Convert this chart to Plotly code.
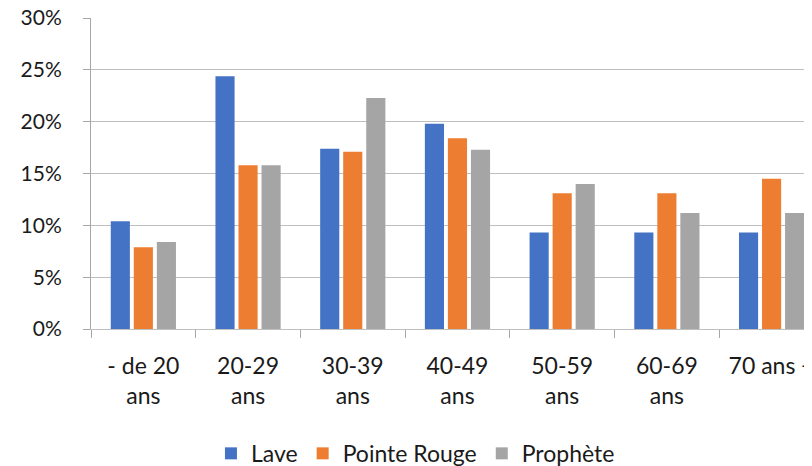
import plotly.graph_objects as go

categories = ["- de 20<br>ans", "20-29<br>ans", "30-39<br>ans", "40-49<br>ans",
              "50-59<br>ans", "60-69<br>ans", "70 ans +"]
lave = [0.104, 0.244, 0.174, 0.198, 0.093, 0.093, 0.093]
pointe_rouge = [0.079, 0.158, 0.171, 0.184, 0.131, 0.131, 0.145]
prophete = [0.084, 0.158, 0.223, 0.173, 0.140, 0.112, 0.112]
y_ticks = [0, 0.05, 0.10, 0.15, 0.20, 0.25, 0.30]
y_tick_labels = ["0%", "5%", "10%", "15%", "20%", "25%", "30%"]

FONT = "Lato"
fig = go.Figure()
for name, vals, col in [("Lave", lave, "#4472C4"),
                        ("Pointe Rouge", pointe_rouge, "#ED7D31"),
                        ("Prophète", prophete, "#A5A5A5")]:
    fig.add_trace(go.Bar(x=categories, y=vals, name=name,
                         marker=dict(color=col, line=dict(width=0))))

# page body has an 8px margin, so the figure is sized/offset accordingly
fig.update_layout(
    width=804, height=458,
    margin=dict(l=83, r=0, t=10, b=137, autoexpand=False),
    paper_bgcolor="white", plot_bgcolor="white",
    barmode="group", bargap=0.34, bargroupgap=0.17,
    font=dict(family=FONT, color="#1a1a1a"),
    legend=dict(orientation="h", x=0.45, xanchor="center", y=-0.40, yanchor="middle",
                font=dict(size=23, family=FONT, color="#1a1a1a"),
                itemwidth=30, tracegroupgap=0),
    xaxis=dict(range=[-0.5, 6.386], tickson="boundaries", ticks="outside", ticklen=8,
               tickcolor="#A6A6A6", showline=True, linecolor="#BFBFBF", linewidth=1,
               tickfont=dict(size=23, family=FONT, color="#1a1a1a"),
               ticklabelstandoff=16, showgrid=False, fixedrange=True, automargin=False,
               ticklabeloverflow="allow"),
    yaxis=dict(range=[0, 0.3001], tickvals=y_ticks, ticktext=y_tick_labels,
               ticks="outside", ticklen=7, tickcolor="#A6A6A6",
               showline=True, linecolor="#A6A6A6", linewidth=1,
               gridcolor="#BFBFBF", gridwidth=1, zeroline=False,
               tickfont=dict(size=21, family=FONT, color="#1a1a1a"),
               ticklabelstandoff=17, automargin=False, ticklabeloverflow="allow"),
    showlegend=True,
)
fig.write_html("out.html")
